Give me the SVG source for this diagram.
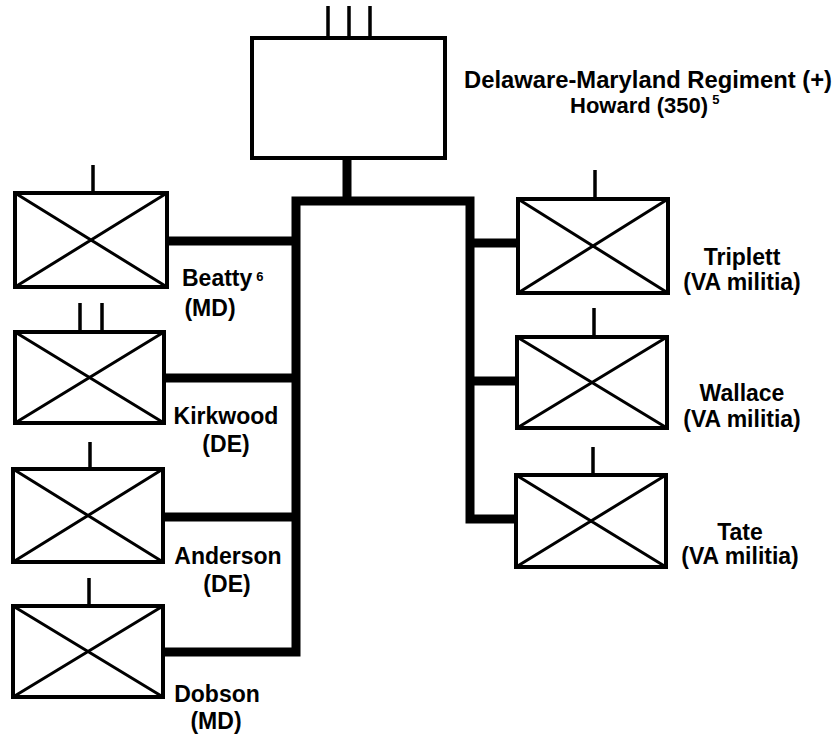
<svg xmlns="http://www.w3.org/2000/svg" width="839" height="734" viewBox="0 0 839 734">
<style>
.box{fill:#fff;stroke:#000;stroke-width:4}
.x{stroke:#000;stroke-width:3;fill:none}
.tick{stroke:#000;stroke-width:3.5;fill:none}
.conn{stroke:#000;stroke-width:9;fill:none;stroke-linejoin:miter;stroke-linecap:butt}
text{font-family:"Liberation Sans",Arial,sans-serif;font-weight:bold;font-size:23px;fill:#000}
.sup{font-size:13px}
</style>
<rect width="839" height="734" fill="#fff"/>
<g id="connectors">
<path class="conn" d="M347,158 V201"/>
<path class="conn" d="M163,652 H296 V201 H470 V519 H516"/>
<path class="conn" d="M167,241 H296"/>
<path class="conn" d="M164,378 H296"/>
<path class="conn" d="M163,517 H296"/>
<path class="conn" d="M470,243 H518"/>
<path class="conn" d="M470,381 H517"/>
</g>
<g id="hq">
<rect class="box" x="252" y="38" width="193" height="120"/>
<path class="tick" d="M328,6 V38 M349,6 V38 M370,6 V38"/>
<text x="648" y="88" text-anchor="middle" textLength="368" lengthAdjust="spacingAndGlyphs">Delaware-Maryland Regiment (+)</text>
<text x="570" y="113" style="font-size:22px">Howard (350)<tspan class="sup" dx="4" dy="-9">5</tspan></text>
</g>
<g id="beatty">
<rect class="box" x="15" y="193" width="152" height="94"/>
<path class="x" d="M15,193 L167,287 M167,193 L15,287"/>
<path class="tick" d="M93,165 V193"/>
<text x="182" y="286">Beatty<tspan class="sup" dx="4" dy="-5">6</tspan></text>
<text x="210" y="316" text-anchor="middle">(MD)</text>
</g>
<g id="kirkwood">
<rect class="box" x="15" y="332" width="149" height="91"/>
<path class="x" d="M15,332 L164,423 M164,332 L15,423"/>
<path class="tick" d="M80,303 V332 M102,303 V332"/>
<text x="226" y="424" text-anchor="middle">Kirkwood</text>
<text x="226" y="452" text-anchor="middle">(DE)</text>
</g>
<g id="anderson">
<rect class="box" x="13" y="469" width="150" height="93"/>
<path class="x" d="M13,469 L163,562 M163,469 L13,562"/>
<path class="tick" d="M90,442 V469"/>
<text x="228" y="564" text-anchor="middle">Anderson</text>
<text x="227" y="592" text-anchor="middle">(DE)</text>
</g>
<g id="dobson">
<rect class="box" x="13" y="606" width="150" height="91"/>
<path class="x" d="M13,606 L163,697 M163,606 L13,697"/>
<path class="tick" d="M89,578 V606"/>
<text x="217" y="702" text-anchor="middle">Dobson</text>
<text x="216" y="729" text-anchor="middle">(MD)</text>
</g>
<g id="triplett">
<rect class="box" x="518" y="199" width="150" height="94"/>
<path class="x" d="M518,199 L668,293 M668,199 L518,293"/>
<path class="tick" d="M595,170 V199"/>
<text x="742" y="265" text-anchor="middle">Triplett</text>
<text x="742" y="290" text-anchor="middle">(VA militia)</text>
</g>
<g id="wallace">
<rect class="box" x="517" y="337" width="150" height="91"/>
<path class="x" d="M517,337 L667,428 M667,337 L517,428"/>
<path class="tick" d="M594,308 V337"/>
<text x="742" y="401" text-anchor="middle">Wallace</text>
<text x="742" y="427" text-anchor="middle">(VA militia)</text>
</g>
<g id="tate">
<rect class="box" x="516" y="475" width="150" height="92"/>
<path class="x" d="M516,475 L666,567 M666,475 L516,567"/>
<path class="tick" d="M593,447 V475"/>
<text x="740" y="540" text-anchor="middle">Tate</text>
<text x="740" y="564" text-anchor="middle">(VA militia)</text>
</g>
</svg>
